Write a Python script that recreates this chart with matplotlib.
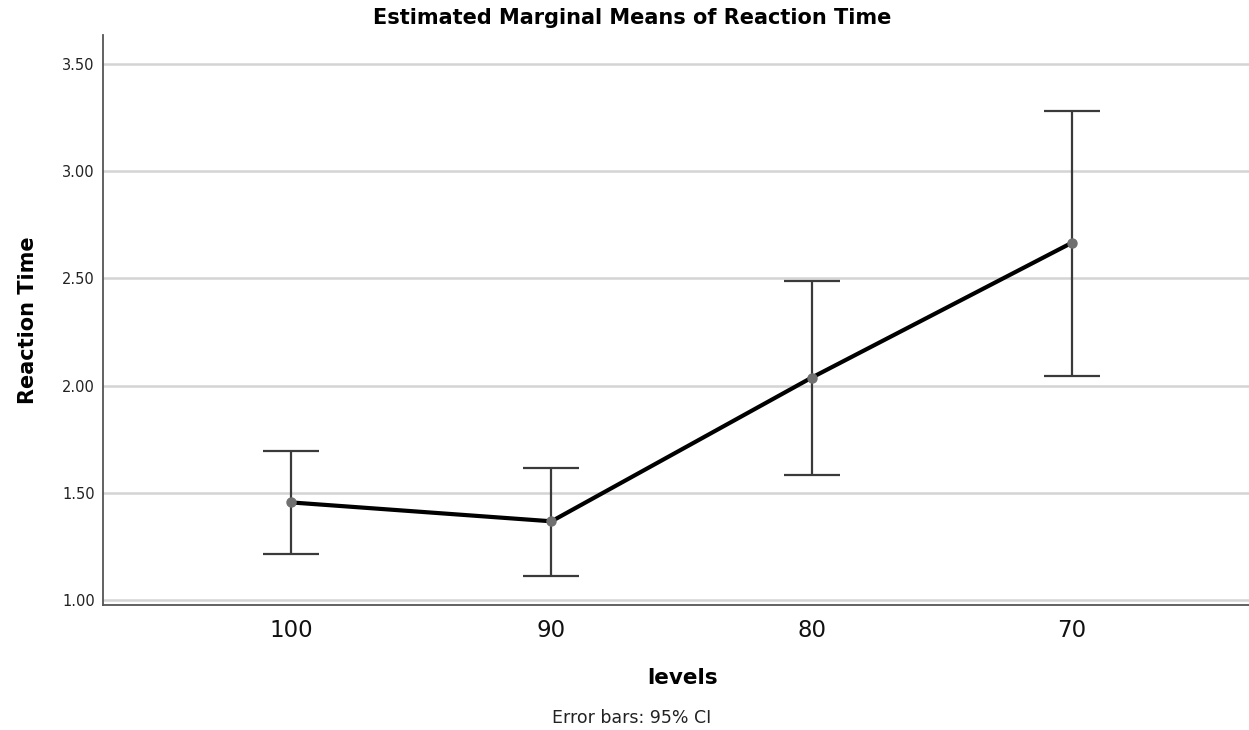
import matplotlib
matplotlib.use("Agg")
import matplotlib.pyplot as plt
import numpy as np

levels = ["100", "90", "80", "70"]
means = [1.456, 1.368, 2.038, 2.667]
ci_upper = [1.694, 1.615, 2.490, 3.281]
ci_lower = [1.214, 1.112, 1.582, 2.047]
yticks = [1.00, 1.50, 2.00, 2.50, 3.00, 3.50]

fig = plt.figure(figsize=(12.49, 7.30), dpi=100)
ax = fig.add_axes([0.0825, 0.171, 0.9175, 0.781])

x = np.arange(len(levels))
m = np.array(means)
yerr = [m - np.array(ci_lower), np.array(ci_upper) - m]

for yt in yticks:
    ax.axhline(yt, color="#d4d4d4", lw=1.8, zorder=0)

ax.errorbar(x, m, yerr=yerr, fmt="none", ecolor="#3a3a3a", elinewidth=1.6,
            capsize=20.5, capthick=1.6, zorder=2)
ax.plot(x, m, color="black", lw=3.0, zorder=3, solid_capstyle="round")
ax.plot(x, m, "o", color="#707070", ms=6.5, zorder=4)

ax.set_xlim(-0.723, 3.68)
ax.set_ylim(0.977, 3.635)
ax.set_yticks(yticks)
ax.set_yticklabels([f"{v:.2f}" for v in yticks], fontsize=10.5, color="#222222")
ax.set_xticks(x)
ax.set_xticklabels(levels, fontsize=16.5, color="#111111")
ax.tick_params(axis="y", length=0, pad=6)
ax.tick_params(axis="x", length=0, pad=10)

for s in ["top", "right"]:
    ax.spines[s].set_visible(False)
for s in ["left", "bottom"]:
    ax.spines[s].set_color("#555555")
    ax.spines[s].set_linewidth(1.3)

ax.set_title("Estimated Marginal Means of Reaction Time", fontsize=15,
             fontweight="bold", pad=8, x=0.4616)
ax.set_xlabel("levels", fontsize=15.5, fontweight="bold", labelpad=18)
ax.xaxis.set_label_coords(0.506, -0.111)
ax.set_ylabel("Reaction Time", fontsize=15, fontweight="bold", labelpad=17)

fig.text(632 / 1249, 1 - 718 / 730, "Error bars: 95% CI", ha="center",
         va="center", fontsize=12.5, color="#222222")

fig.savefig("out.png", dpi=100)
